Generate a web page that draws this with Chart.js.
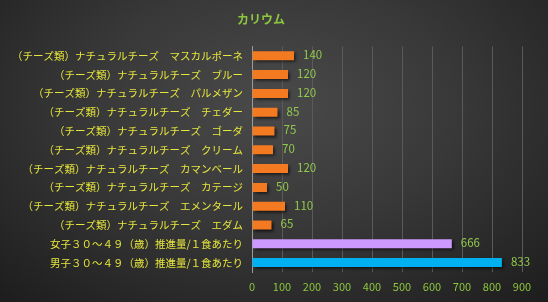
<!DOCTYPE html>
<html>
<head>
<meta charset="utf-8">
<script src="https://cdn.jsdelivr.net/npm/chart.js@4"></script>
<style>
  html, body { margin: 0; padding: 0; }
  body {
    width: 548px; height: 302px; overflow: hidden;
    background: radial-gradient(ellipse 75% 90% at 50% 35%, #4a4a4a 0%, #383838 45%, #1c1c1c 100%);
  }
  #wrap { width: 548px; height: 302px; position: relative; }
</style>
</head>
<body>
<div id="wrap"><canvas id="myChart" width="548" height="302"></canvas></div>
<script>
const title = 'カリウム';
const labels = [
    '（チーズ類）ナチュラルチーズ　マスカルポーネ',
    '（チーズ類）ナチュラルチーズ　ブルー',
    '（チーズ類）ナチュラルチーズ　パルメザン',
    '（チーズ類）ナチュラルチーズ　チェダー',
    '（チーズ類）ナチュラルチーズ　ゴーダ',
    '（チーズ類）ナチュラルチーズ　クリーム',
    '（チーズ類）ナチュラルチーズ　カマンベール',
    '（チーズ類）ナチュラルチーズ　カテージ',
    '（チーズ類）ナチュラルチーズ　エメンタール',
    '（チーズ類）ナチュラルチーズ　エダム',
    '女子３０～４９（歳）推進量/１食あたり',
    '男子３０～４９（歳）推進量/１食あたり'
];
const values = [140, 120, 120, 85, 75, 70, 120, 50, 110, 65, 666, 833];
const barColors = [
    '#F47A22', '#F47A22', '#F47A22', '#F47A22', '#F47A22', '#F47A22',
    '#F47A22', '#F47A22', '#F47A22', '#F47A22', '#CC99FF', '#00B0F0'
];
const xTicks = [0, 100, 200, 300, 400, 500, 600, 700, 800, 900];

const jpFont = '"Noto Sans CJK JP", "Noto Sans", sans-serif';

// drop shadow under bars
const shadowPlugin = {
    id: 'barShadow',
    beforeDatasetDraw(chart) {
        const c = chart.ctx;
        c.save();
        c.shadowColor = 'rgba(0,0,0,0.65)';
        c.shadowOffsetX = 2;
        c.shadowOffsetY = 2;
        c.shadowBlur = 3;
    },
    afterDatasetDraw(chart) {
        chart.ctx.restore();
    }
};

// value labels to the right of bars
const valueLabels = {
    id: 'valueLabels',
    afterDatasetsDraw(chart) {
        const c = chart.ctx;
        const meta = chart.getDatasetMeta(0);
        c.save();
        c.font = '11.5px ' + jpFont;
        c.fillStyle = '#92C84E';
        c.textAlign = 'left';
        c.textBaseline = 'middle';
        meta.data.forEach((bar, i) => {
            c.fillText(String(values[i]), bar.x + 9, bar.y - 1);
        });
        c.restore();
    }
};

const ctx = document.getElementById('myChart').getContext('2d');
const myChart = new Chart(ctx, {
    type: 'bar',
    data: {
        labels: labels,
        datasets: [{
            data: values,
            backgroundColor: barColors,
            borderWidth: 0,
            barPercentage: 0.48,
            categoryPercentage: 1
        }]
    },
    options: {
        indexAxis: 'y',
        responsive: false,
        animation: false,
        layout: { padding: { left: 0, right: 26, top: 0, bottom: 0 } },
        plugins: {
            legend: { display: false },
            tooltip: { enabled: false },
            title: {
                display: true,
                text: title,
                color: '#8DC63F',
                font: { family: jpFont, size: 12, weight: 'bold' },
                padding: { top: 12, bottom: 20 }
            }
        },
        scales: {
            y: {
                afterFit(scale) { scale.width = 252; },
                grid: { display: false, drawTicks: false },
                border: { display: true, color: '#9a9a9a', width: 1 },
                ticks: {
                    color: '#E6E63C',
                    font: { family: jpFont, size: 10.5 },
                    padding: 9,
                    autoSkip: false
                }
            },
            x: {
                min: 0,
                max: 900,
                afterFit(scale) { scale.height = 30; },
                afterBuildTicks(scale) { scale.ticks = xTicks.map(v => ({ value: v })); },
                grid: { color: '#5a5a5a', lineWidth: 1, drawTicks: false },
                border: { display: false },
                ticks: {
                    color: '#8DC63F',
                    font: { family: jpFont, size: 11 },
                    padding: 8
                }
            }
        }
    },
    plugins: [shadowPlugin, valueLabels]
});
</script>
</body>
</html>
